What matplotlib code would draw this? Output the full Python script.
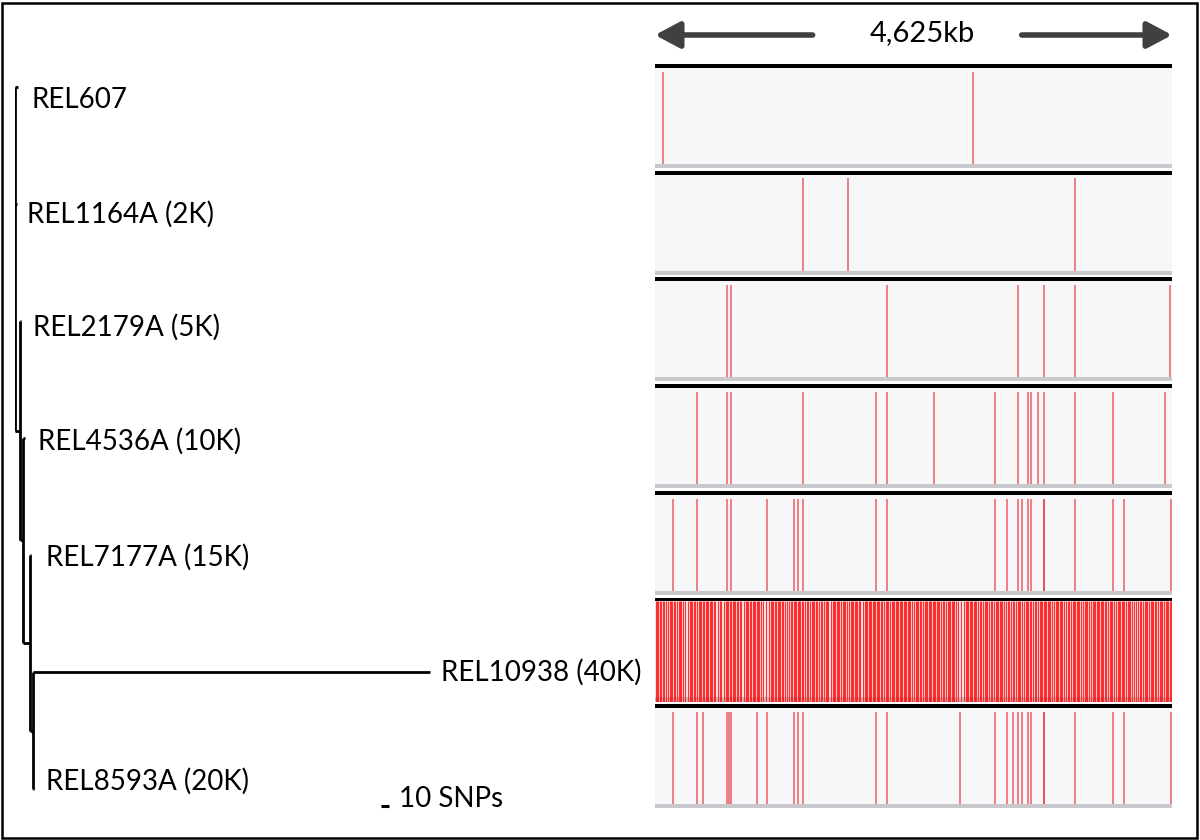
import matplotlib.pyplot as plt
from matplotlib.patches import Rectangle

# genome length (kb) and strains, top to bottom
genome_kb = 4625
strains = ["REL607", "REL1164A (2K)", "REL2179A (5K)", "REL4536A (10K)",
           "REL7177A (15K)", "REL10938 (40K)", "REL8593A (20K)"]
leaf_ids = ["REL607", "REL1164A", "REL2179A", "REL4536A", "REL7177A", "REL10938", "REL8593A"]

# tree: parent and branch length in SNPs
parent = {"REL607": "root", "REL1164A": "root", "A": "root",
          "REL2179A": "A", "B": "A",
          "REL4536A": "B", "C": "B",
          "REL7177A": "C", "D": "C",
          "REL10938": "D", "REL8593A": "D"}
branch = {"REL607": 4, "REL1164A": 2.5, "A": 6,
          "REL2179A": 1, "B": 4,
          "REL4536A": 2.5, "C": 9,
          "REL7177A": 0.5, "D": 4,
          "REL10938": 496, "REL8593A": 0.5}

# SNP positions along the genome (kb), one list per strain
snp_607 = [68, 2844]
snp_1164 = [1325, 1729, 3757]
snp_2179 = [648, 679, 2078, 3248, 3480, 3757, 4609]
snp_4536 = [377, 648, 679, 1325, 1976, 2078, 2495, 3044, 3248, 3341, 3368,
            3424, 3480, 3757, 4100, 4560]
snp_7177 = [157, 377, 648, 679, 1003, 1244, 1281, 1325, 1976, 2078, 3044, 3152,
            3248, 3285, 3341, 3368, 3476, 3484, 3757, 4100, 4199, 4613]
snp_10938 = [
    6, 19, 31, 44, 52, 75, 84, 96, 119, 131, 142, 155, 166, 177, 199, 211, 222,
    236, 247, 271, 298, 309, 321, 333, 345, 356, 379, 391, 403, 415, 428, 440,
    452, 463, 476, 488,
    501, 513, 526, 538, 567, 579, 591, 620, 632, 644, 657, 669, 681, 694, 706,
    719, 731, 743, 756, 768, 799, 811, 823, 836, 848, 860, 873, 885, 897, 910,
    922, 934, 945, 969, 996,
    1023, 1035, 1047, 1060, 1072, 1084, 1097, 1109, 1121, 1134, 1142, 1166,
    1178, 1202, 1214, 1226, 1239, 1251, 1263, 1276, 1288, 1300, 1312, 1322,
    1345, 1357, 1366, 1390, 1402, 1414, 1426, 1438, 1447, 1470, 1482, 1492,
    1515, 1527, 1539, 1552, 1578, 1590, 1602, 1614, 1626, 1638, 1644, 1667,
    1679, 1691, 1703, 1714, 1738, 1750, 1762, 1774, 1786, 1798, 1810, 1822,
    1832, 1864, 1876, 1888, 1900, 1912, 1924, 1936, 1948, 1960, 1972, 1984, 1996,
    2008, 2019, 2029, 2052, 2064, 2076, 2083, 2105, 2117, 2129, 2141, 2153,
    2165, 2177, 2189, 2201, 2213, 2225, 2237, 2249, 2261, 2273, 2285, 2296,
    2320, 2332, 2344, 2356, 2368, 2378, 2401, 2413, 2425, 2437, 2449, 2461,
    2473, 2485, 2497,
    2509, 2521, 2533, 2541, 2562, 2574, 2584, 2606, 2618, 2630, 2642, 2654,
    2666, 2678, 2690, 2715, 2741, 2767, 2779, 2791, 2803, 2815, 2827, 2839,
    2851, 2863, 2871, 2892, 2904, 2914, 2937, 2949, 2961, 2969, 2991,
    3003, 3013, 3036, 3048, 3060, 3072, 3084, 3096, 3108, 3120, 3143, 3155,
    3166, 3188, 3200, 3210, 3232, 3244, 3256, 3268, 3280, 3304, 3316, 3328,
    3340, 3352, 3363, 3385, 3397, 3407, 3429, 3441, 3453, 3465, 3477, 3489,
    3501, 3513, 3525, 3537, 3549, 3573, 3585, 3597, 3609, 3621, 3633, 3645,
    3657, 3680, 3692, 3702, 3725, 3737, 3749, 3761, 3773, 3785, 3797, 3809,
    3832, 3844, 3856, 3868, 3880, 3904, 3916, 3928, 3940, 3952, 3964, 3976, 3988,
    4000, 4012, 4024, 4033, 4055, 4067, 4079, 4091, 4103, 4127, 4139, 4151,
    4163, 4175, 4187, 4195, 4216, 4228, 4240, 4252, 4264, 4288, 4300, 4324,
    4336, 4346, 4369, 4381, 4393, 4401, 4422, 4434, 4446, 4458, 4470, 4481,
    4503, 4515, 4527, 4536, 4557, 4569, 4581, 4593, 4605, 4617]
snp_8593 = [157, 377, 426, 648, 664, 679, 911, 1003, 1244, 1281, 1325, 1976,
            2078, 2732, 3044, 3152, 3202, 3248, 3285, 3341, 3368, 3476, 3484,
            3757, 4100, 4199, 4613]
tracks = [snp_607, snp_1164, snp_2179, snp_4536, snp_7177, snp_10938, snp_8593]

W, H = 1200, 840
fig = plt.figure(figsize=(12, 8.4), dpi=100)
plt.rcParams['font.family'] = ['Lato', 'DejaVu Sans']


def px_axes(x, y, w, h):
    return fig.add_axes([x / W, 1 - (y + h) / H, w / W, h / H])


# outer frame
fig.add_artist(Rectangle((2 / W, 2 / H), 1195 / W, 835 / H, transform=fig.transFigure,
                         fill=False, ec="black", lw=1.8))

# ---- tree ----
px_per_snp = 0.8
leaf_top, leaf_step = 87, 117
tree = px_axes(15, 0, 625, H)
tree.set_xlim(0, 625 / px_per_snp)
tree.set_ylim((H - leaf_top) / leaf_step, -leaf_top / leaf_step)
tree.axis("off")

children = {}
for k, p in parent.items():
    children.setdefault(p, []).append(k)

xpos = {"root": 0}
def set_x(n):
    for c in children.get(n, []):
        xpos[c] = xpos[n] + branch[c]
        set_x(c)
set_x("root")

ypos = {leaf: i for i, leaf in enumerate(leaf_ids)}
def set_y(n):
    if n in ypos:
        return ypos[n]
    ys = [set_y(c) for c in children[n]]
    ypos[n] = (min(ys) + max(ys)) / 2
    return ypos[n]
set_y("root")

for n, cs in children.items():
    ys = [ypos[c] for c in cs]
    tree.vlines(xpos[n], min(ys), max(ys), color="black", lw=2.0)
    for c in cs:
        tree.hlines(ypos[c], xpos[n], xpos[c], color="black", lw=2.0)

label_off = [(13, 13), (10, 10), (12, 6), (13, 3), (15, 2), (11, 0), (12, -8)]
for leaf, name, (dx, dy) in zip(leaf_ids, strains, label_off):
    tree.annotate(name, (xpos[leaf], ypos[leaf]), xytext=(dx, -dy),
                  textcoords="offset pixels", ha="left", va="center", fontsize=20)

# scale bar: 10 SNPs
sb_x = (381 - 15) / px_per_snp
sb_y = (806 - leaf_top) / leaf_step
tree.hlines(sb_y, sb_x, sb_x + 10, color="black", lw=2.2)
tree.text(sb_x + 10 + 10 / px_per_snp, sb_y - 7 / leaf_step, "10 SNPs",
          ha="left", va="center", fontsize=20)

# ---- header ----
tx, tw = 655, 517
hdr = px_axes(tx, 14, tw, 42)
hdr.set_xlim(0, genome_kb)
hdr.set_ylim(0, 1)
hdr.axis("off")
arrow = dict(arrowstyle="-|>,head_length=1.5,head_width=0.8", color="#404040",
             lw=4, shrinkA=0, shrinkB=0)
hdr.annotate("", xy=(0, 0.5), xytext=(1410, 0.5), arrowprops=arrow)
hdr.annotate("", xy=(genome_kb, 0.5), xytext=(3280, 0.5), arrowprops=arrow)
hdr.text(genome_kb / 2 + 80, 0.55, "4,625kb", ha="center", va="center", fontsize=21)

# ---- SNP tracks ----
track_top, track_step, track_h = 64, 106.7, 104
for i, snps in enumerate(tracks):
    ax = px_axes(tx, track_top + i * track_step, tw, track_h)
    ax.set_xlim(0, genome_kb)
    ax.set_ylim(0, 1)
    ax.set_facecolor("#f7f7f9")
    ax.axhspan(0.962, 1, color="black", lw=0)
    ax.axhspan(0, 0.04, color="#c8c8cd", lw=0)
    if len(snps) > 100:
        ax.vlines(snps, 0.0, 0.962, color="#ff1010", lw=0.9, alpha=0.85)
    else:
        ax.vlines(snps, 0.04, 0.925, color="#e8383a", lw=1.1, alpha=0.8)
    ax.set_xticks([])
    ax.set_yticks([])
    for s in ax.spines.values():
        s.set_visible(False)

fig.savefig("out.png", dpi=100)
